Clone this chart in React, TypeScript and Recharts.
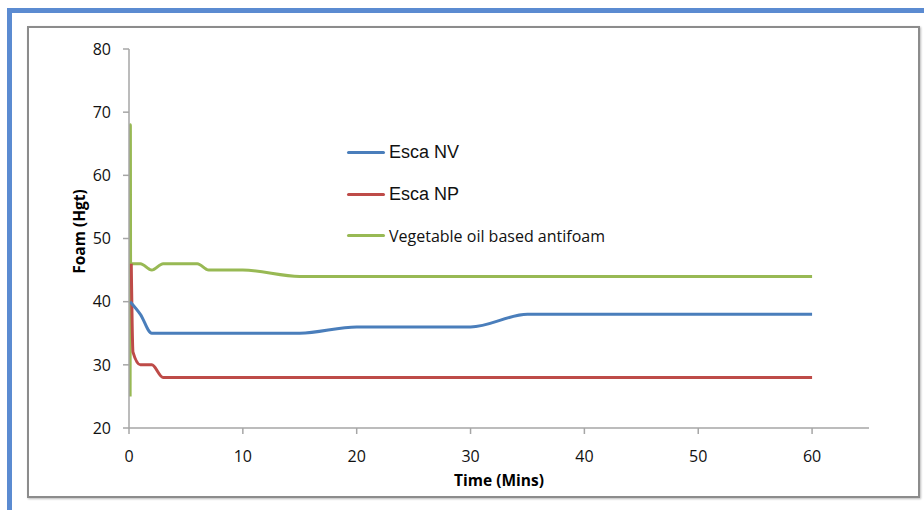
import React from 'react';
import { LineChart, Line, XAxis, YAxis, Legend, Label } from 'recharts';

const xTicks = [0, 10, 20, 30, 40, 50, 60];
const yTicks = [20, 30, 40, 50, 60, 70, 80];

const nvTimes = [0.1, 1, 2, 3, 5, 10, 15, 20, 25, 30, 35, 40, 45, 50, 55, 60];
const nvValues = [40, 38, 35, 35, 35, 35, 35, 36, 36, 36, 38, 38, 38, 38, 38, 38];

const npTimes = [0.2, 0.35, 1, 2, 3, 4, 5, 10, 15, 20, 25, 30, 35, 40, 45, 50, 55, 60];
const npValues = [46, 32, 30, 30, 28, 28, 28, 28, 28, 28, 28, 28, 28, 28, 28, 28, 28, 28];

const vegTimes = [0.1, 0.12, 0.14, 1, 2, 3, 4, 5, 6, 7, 8, 10, 15, 20, 25, 30, 35, 40, 45, 50, 55, 60];
const vegValues = [25, 68, 46, 46, 45, 46, 46, 46, 46, 45, 45, 45, 44, 44, 44, 44, 44, 44, 44, 44, 44, 44];

const seriesNames = ['Esca NV', 'Esca NP', 'Vegetable oil based antifoam'];
const seriesColors = ['#4a7ebb', '#be4b48', '#98b954'];

const toData = (ts: number[], vs: number[]) => ts.map((t, i) => ({ t, v: vs[i] }));
const nvData = toData(nvTimes, nvValues);
const npData = toData(npTimes, npValues);
const vegData = toData(vegTimes, vegValues);

const tickFont = { fontFamily: '"Open Sans", sans-serif', fontSize: 16, fill: '#111' };
const titleStyle = { fontFamily: '"Open Sans", sans-serif', fontSize: 15.5, fontWeight: 700, fill: '#000' };

const renderLegend = () => (
  <div>
    {seriesNames.map((n, i) => (
      <div key={n} style={{ display: 'flex', alignItems: 'center', height: 41.5 }}>
        <div style={{ width: 38, height: 3, background: seriesColors[i], borderRadius: 2 }} />
        <span
          style={{
            marginLeft: 4,
            fontFamily: i < 2 ? '"Liberation Sans", Arial, sans-serif' : '"Open Sans", sans-serif',
            fontSize: i < 2 ? 18 : 16,
            color: '#111',
            whiteSpace: 'nowrap',
          }}
        >
          {n}
        </span>
      </div>
    ))}
  </div>
);

export default function App() {
  return (
    <div style={{ position: 'absolute', left: 0, top: 0, width: 924, height: 510, overflow: 'hidden', background: '#fff' }}>
      <div style={{ position: 'absolute', left: 7, top: 8, width: 960, height: 560, border: '5px solid #5b8bd1', boxSizing: 'border-box' }} />
      <div style={{ position: 'absolute', left: 27, top: 26, width: 893, height: 472, border: '2px solid #8c8c8c', boxSizing: 'border-box', boxShadow: '1px 1px 2px #bbb' }} />
      <div style={{ position: 'absolute', left: 0, top: 0 }}>
        <LineChart width={924} height={510} margin={{ top: 49, right: 55, bottom: 52, left: 79 }}>
          <XAxis
            type="number"
            dataKey="t"
            domain={[0, 65]}
            ticks={xTicks}
            allowDataOverflow
            height={30}
            tickSize={6}
            tickMargin={17}
            stroke="#a6a6a6"
            strokeWidth={1.5}
            tick={tickFont}
          >
            <Label value="Time (Mins)" position="bottom" offset={17} style={titleStyle} />
          </XAxis>
          <YAxis
            type="number"
            domain={[20, 80]}
            ticks={yTicks}
            width={50}
            tickSize={6}
            tickMargin={12}
            stroke="#a6a6a6"
            strokeWidth={1.5}
            tick={tickFont}
          >
            <Label value="Foam (Hgt)" position="center" angle={-90} dx={-25} dy={-7} style={titleStyle} />
          </YAxis>
          <Legend
            content={renderLegend}
            layout="vertical"
            align="center"
            verticalAlign="middle"
            wrapperStyle={{ position: 'absolute', left: 347, top: 132, width: 300 }}
          />
          <Line data={vegData} dataKey="v" name={seriesNames[2]} type="monotone" stroke={seriesColors[2]} strokeWidth={3} dot={false} isAnimationActive={false} />
          <Line data={npData} dataKey="v" name={seriesNames[1]} type="monotone" stroke={seriesColors[1]} strokeWidth={3} dot={false} isAnimationActive={false} />
          <Line data={nvData} dataKey="v" name={seriesNames[0]} type="monotone" stroke={seriesColors[0]} strokeWidth={3} dot={false} isAnimationActive={false} />
        </LineChart>
      </div>
    </div>
  );
}
